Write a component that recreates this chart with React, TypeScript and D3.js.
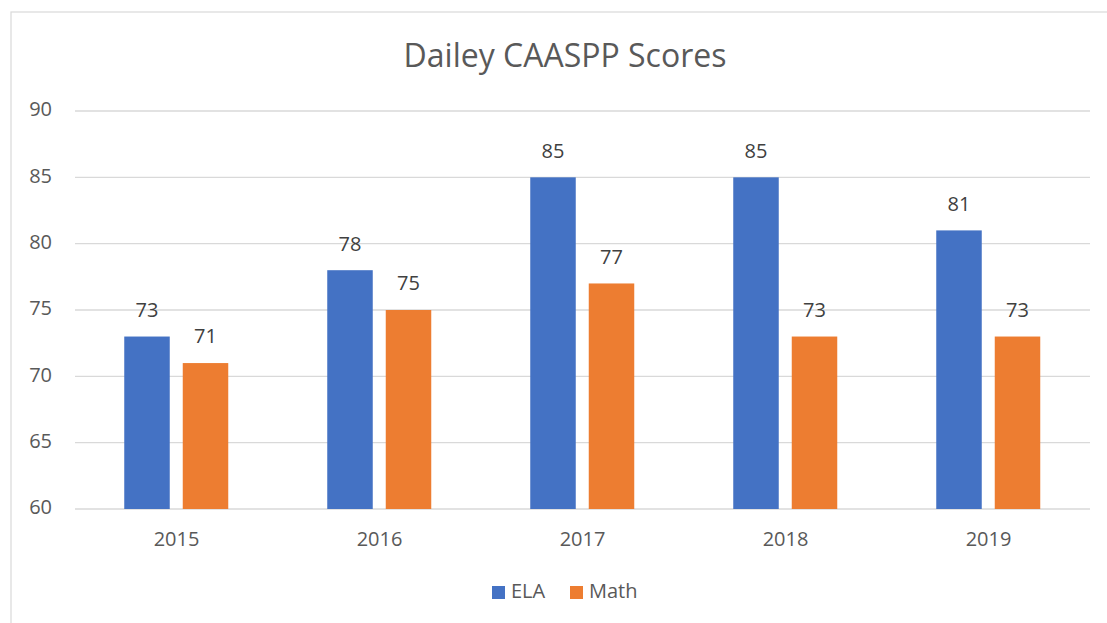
import * as d3 from "d3";

const years = ["2015", "2016", "2017", "2018", "2019"];
const elaScores = [73, 78, 85, 85, 81];
const mathScores = [71, 75, 77, 73, 73];
const yTicks = [60, 65, 70, 75, 80, 85, 90];

const series = [
  { name: "ELA", values: elaScores, color: "#4472C4" },
  { name: "Math", values: mathScores, color: "#ED7D31" },
];

const W = 1107;
const H = 623;
const font = "'Open Sans', 'DejaVu Sans', sans-serif";

export default function App() {
  const x = d3.scaleBand<string>().domain(years).range([75, 1090]);
  const y = d3.scaleLinear().domain([60, 90]).range([509, 111]);
  const barW = 45.5;
  const offsets = [-29.5 - barW / 2, 29 - barW / 2];

  return (
    <svg
      width={W}
      height={H}
      style={{ position: "absolute", left: 0, top: 0, background: "#fff" }}
    >
      <rect x={11} y={12} width={W + 20} height={H + 20} fill="#fff" stroke="#d9d9d9" strokeWidth={1.2} />
      <text x={565} y={58} textAnchor="middle" dominantBaseline="middle" fontFamily={font} fontSize={32} fill="#595959">
        Dailey CAASPP Scores
      </text>
      {yTicks.map((t) => (
        <g key={t}>
          <line x1={75} x2={1090} y1={y(t)} y2={y(t)} stroke="#d9d9d9" strokeWidth={1.3} />
          <text x={52} y={y(t)} textAnchor="end" dominantBaseline="middle" fontFamily={font} fontSize={20} fill="#595959">
            {t}
          </text>
        </g>
      ))}
      {series.map((s, si) =>
        s.values.map((v, i) => {
          const cx = (x(years[i]) as number) + x.bandwidth() / 2 + offsets[si];
          return (
            <g key={s.name + i}>
              <rect x={cx} y={y(v)} width={barW} height={y(60) - y(v)} fill={s.color} />
              <text x={cx + barW / 2} y={y(v) - 25} textAnchor="middle" dominantBaseline="middle" fontFamily={font} fontSize={20} fill="#404040">
                {v}
              </text>
            </g>
          );
        })
      )}
      {years.map((yr) => (
        <text key={yr} x={(x(yr) as number) + x.bandwidth() / 2} y={541} textAnchor="middle" dominantBaseline="middle" fontFamily={font} fontSize={20} fill="#595959">
          {yr}
        </text>
      ))}
      <g>
        <rect x={492} y={586} width={13} height={13} fill={series[0].color} />
        <text x={511} y={593} dominantBaseline="middle" fontFamily={font} fontSize={20} fill="#595959">ELA</text>
        <rect x={570} y={586} width={13} height={13} fill={series[1].color} />
        <text x={589} y={593} dominantBaseline="middle" fontFamily={font} fontSize={20} fill="#595959">Math</text>
      </g>
    </svg>
  );
}
